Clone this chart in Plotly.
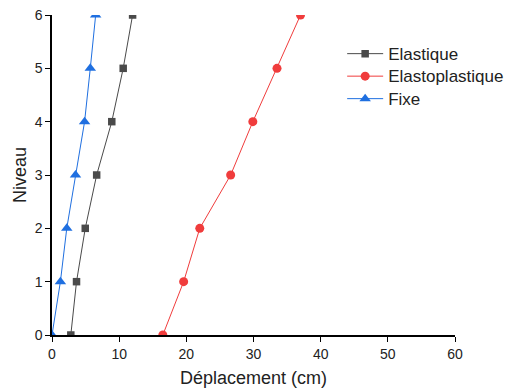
import plotly.graph_objects as go

niveau = [0, 1, 2, 3, 4, 5, 6]
elastique = [2.8, 3.65, 4.95, 6.65, 8.9, 10.6, 12.0]
elastoplastique = [16.5, 19.6, 22.0, 26.6, 29.9, 33.5, 37.0]
fixe = [0.0, 1.25, 2.2, 3.5, 4.85, 5.7, 6.5]
names = ["Elastique", "Elastoplastique", "Fixe"]

def lab(t):
    return '<span style="font-size:17px">' + t + '</span>'

fig = go.Figure()
fig.add_trace(go.Scatter(x=elastique, y=niveau, name=lab(names[0]), mode="lines+markers",
                         line=dict(color="#4a4a4a", width=1),
                         marker=dict(symbol="square", size=7.5, color="#4a4a4a")))
fig.add_trace(go.Scatter(x=elastoplastique, y=niveau, name=lab(names[1]), mode="lines+markers",
                         line=dict(color="#f03c3c", width=1),
                         marker=dict(symbol="circle", size=9, color="#f03c3c")))
fig.add_trace(go.Scatter(x=fixe, y=niveau, name=lab(names[2]), mode="lines+markers",
                         line=dict(color="#1f6fe0", width=1),
                         marker=dict(symbol="triangle-up", size=10, color="#1f6fe0")))

axis_common = dict(showline=True, linecolor="black", linewidth=1.5, ticks="outside",
                   ticklen=5, tickcolor="black", showgrid=False, zeroline=False,
                   automargin=False,
                   tickfont=dict(family="Liberation Sans, Arial", size=14, color="#222"))

fig.update_layout(
    width=509, height=389,
    margin=dict(l=52, r=54, t=15, b=54, autoexpand=False),
    paper_bgcolor="white", plot_bgcolor="white",
    font=dict(family="Liberation Sans, Arial", size=15, color="#222"),
    xaxis=dict(range=[0, 60], dtick=10, title=dict(text="Déplacement (cm)", standoff=11), **axis_common),
    yaxis=dict(range=[0, 6], dtick=1, title=dict(text="Niveau", standoff=3), **axis_common),
    legend=dict(x=0.72, y=0.93, xanchor="left", yanchor="top", bgcolor="rgba(0,0,0,0)",
                font=dict(size=15), itemwidth=36, tracegroupgap=0),
)
fig.write_html("out.html", post_script="document.body.style.margin='0';",
               config={"displayModeBar": False})
